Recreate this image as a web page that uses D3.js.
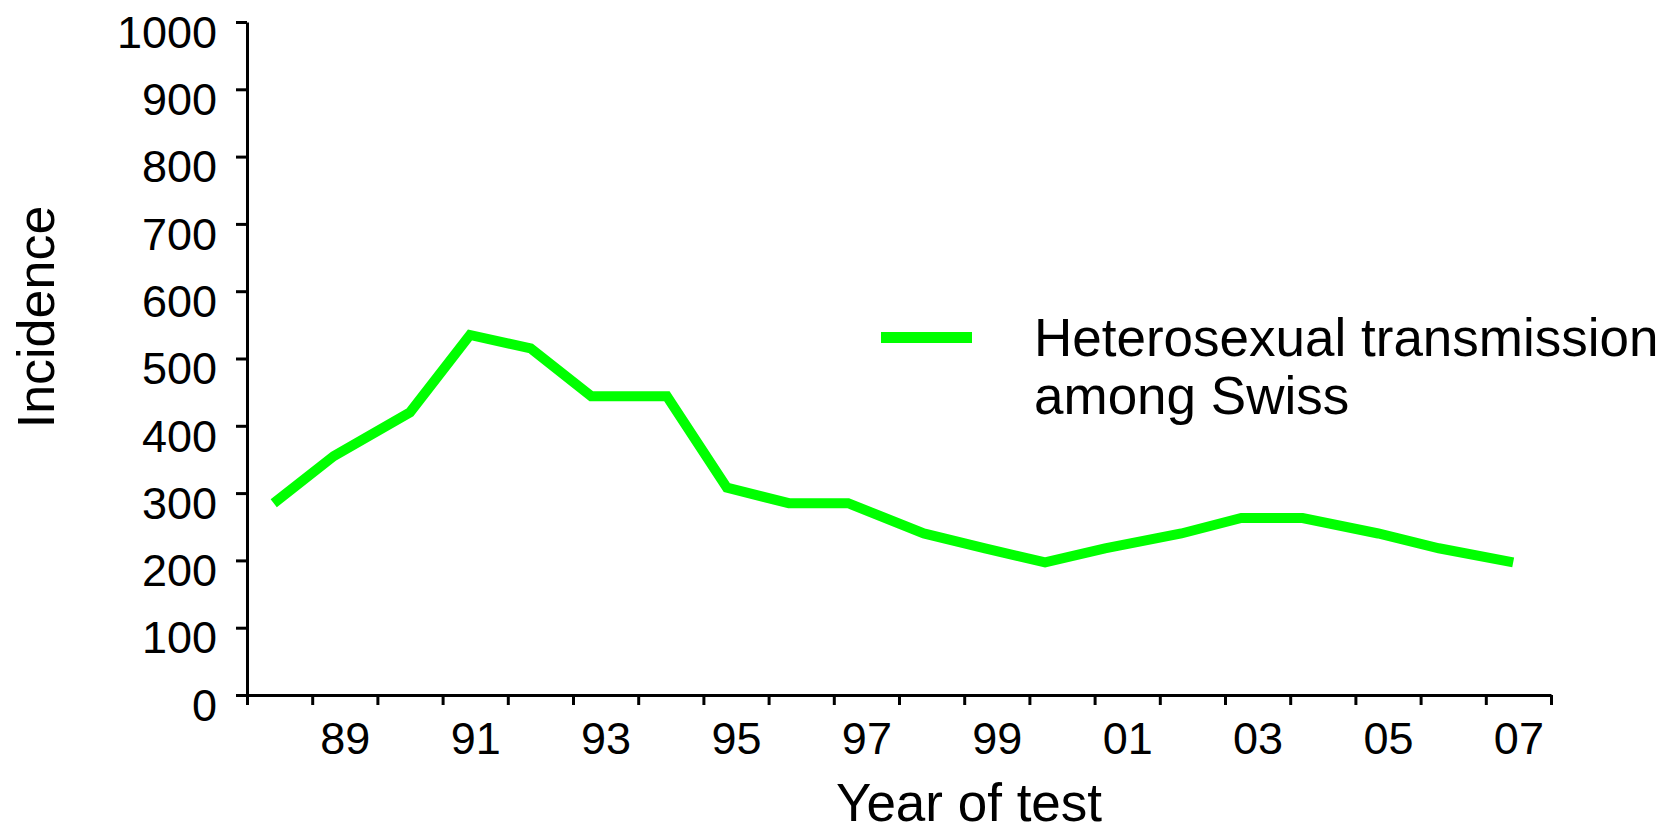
<!DOCTYPE html>
<html>
<head>
<meta charset="utf-8">
<script src="https://cdn.jsdelivr.net/npm/d3@7"></script>
<style>
  html, body { margin: 0; padding: 0; background: #fff; }
  svg { display: block; font-family: "Liberation Sans", Arial, sans-serif; }
</style>
</head>
<body>
<div id="chart"></div>
<script>
const width = 1664;
const height = 832;
const margin = {top: 22, right: 113, bottom: 137, left: 247};
const lineColor = "#00ff00";

// where each point sits along the year axis, and its incidence
const yearPos = [1988.41, 1989.33, 1990.50, 1991.42, 1992.35, 1993.28, 1994.44, 1995.36, 1996.31, 1997.22,
                 1998.38, 1999.32, 2000.24, 2001.16, 2002.33, 2003.25, 2004.19, 2005.35, 2006.28, 2007.42];
const incidence = [285, 355, 420, 535, 515, 444, 444, 308, 285, 285,
                   240, 218, 197, 218, 240, 263, 263, 240, 218, 197];

const yTicks = [0, 100, 200, 300, 400, 500, 600, 700, 800, 900, 1000];
const yearBounds = [1988, 1989, 1990, 1991, 1992, 1993, 1994, 1995, 1996, 1997, 1998,
                    1999, 2000, 2001, 2002, 2003, 2004, 2005, 2006, 2007, 2008];
const labelYears = [1989, 1991, 1993, 1995, 1997, 1999, 2001, 2003, 2005, 2007];
const tickLabels = ["89", "91", "93", "95", "97", "99", "01", "03", "05", "07"];

const seriesName = ["Heterosexual transmission", "among Swiss"];

const data = yearPos.map((t, i) => ({t: t, v: incidence[i]}));

const x = d3.scaleLinear()
  .domain([1988, 2008])
  .range([margin.left, width - margin.right]);

const y = d3.scaleLinear()
  .domain([0, 1000])
  .range([height - margin.bottom, margin.top]);

const svg = d3.select("#chart")
  .append("svg")
  .attr("width", width)
  .attr("height", height)
  .attr("viewBox", [0, 0, width, height]);

const styleAxis = g => {
  g.selectAll("path, line").attr("stroke", "#000").attr("stroke-width", 3);
  g.selectAll("text").attr("fill", "#000").style("font-size", "45px");
};

// x tick marks on the year boundaries
svg.append("g")
  .attr("transform", `translate(0,${height - margin.bottom})`)
  .call(d3.axisBottom(x).tickValues(yearBounds).tickSize(10).tickSizeOuter(0).tickFormat(""))
  .call(styleAxis);

// x labels centred between the ticks
svg.append("g")
  .attr("transform", `translate(0,${height - margin.bottom})`)
  .call(d3.axisBottom(x).tickValues(labelYears.map(d => d + 0.5)).tickSize(0).tickPadding(27)
    .tickFormat((d, i) => tickLabels[i]))
  .call(g => g.select(".domain").remove())
  .call(styleAxis);

svg.append("g")
  .attr("transform", `translate(${margin.left},0)`)
  .call(d3.axisLeft(y).tickValues(yTicks).tickSize(11).tickSizeOuter(0).tickPadding(19)
    .tickFormat(d3.format("d")))
  .call(styleAxis)
  .call(g => g.selectAll("text").attr("dy", "0.56em"));

const line = d3.line()
  .x(d => x(d.t))
  .y(d => y(d.v));

svg.append("path")
  .datum(data)
  .attr("fill", "none")
  .attr("stroke", lineColor)
  .attr("stroke-width", 10)
  .attr("stroke-linejoin", "miter")
  .attr("d", line);

// axis titles
svg.append("text")
  .attr("transform", "translate(54,317) rotate(-90)")
  .attr("text-anchor", "middle")
  .style("font-size", "52px")
  .text("Incidence");

svg.append("text")
  .attr("x", 969)
  .attr("y", 821)
  .attr("text-anchor", "middle")
  .style("font-size", "53px")
  .text("Year of test");

// legend
const legend = svg.append("g").attr("transform", "translate(881,337.5)");

legend.append("line")
  .attr("x1", 0)
  .attr("x2", 91)
  .attr("stroke", lineColor)
  .attr("stroke-width", 11);

legend.selectAll("text.name")
  .data(seriesName)
  .join("text")
  .attr("class", "name")
  .attr("x", 153)
  .attr("y", (d, i) => 18 + i * 58.5)
  .style("font-size", "53px")
  .text(d => d);
</script>
</body>
</html>
